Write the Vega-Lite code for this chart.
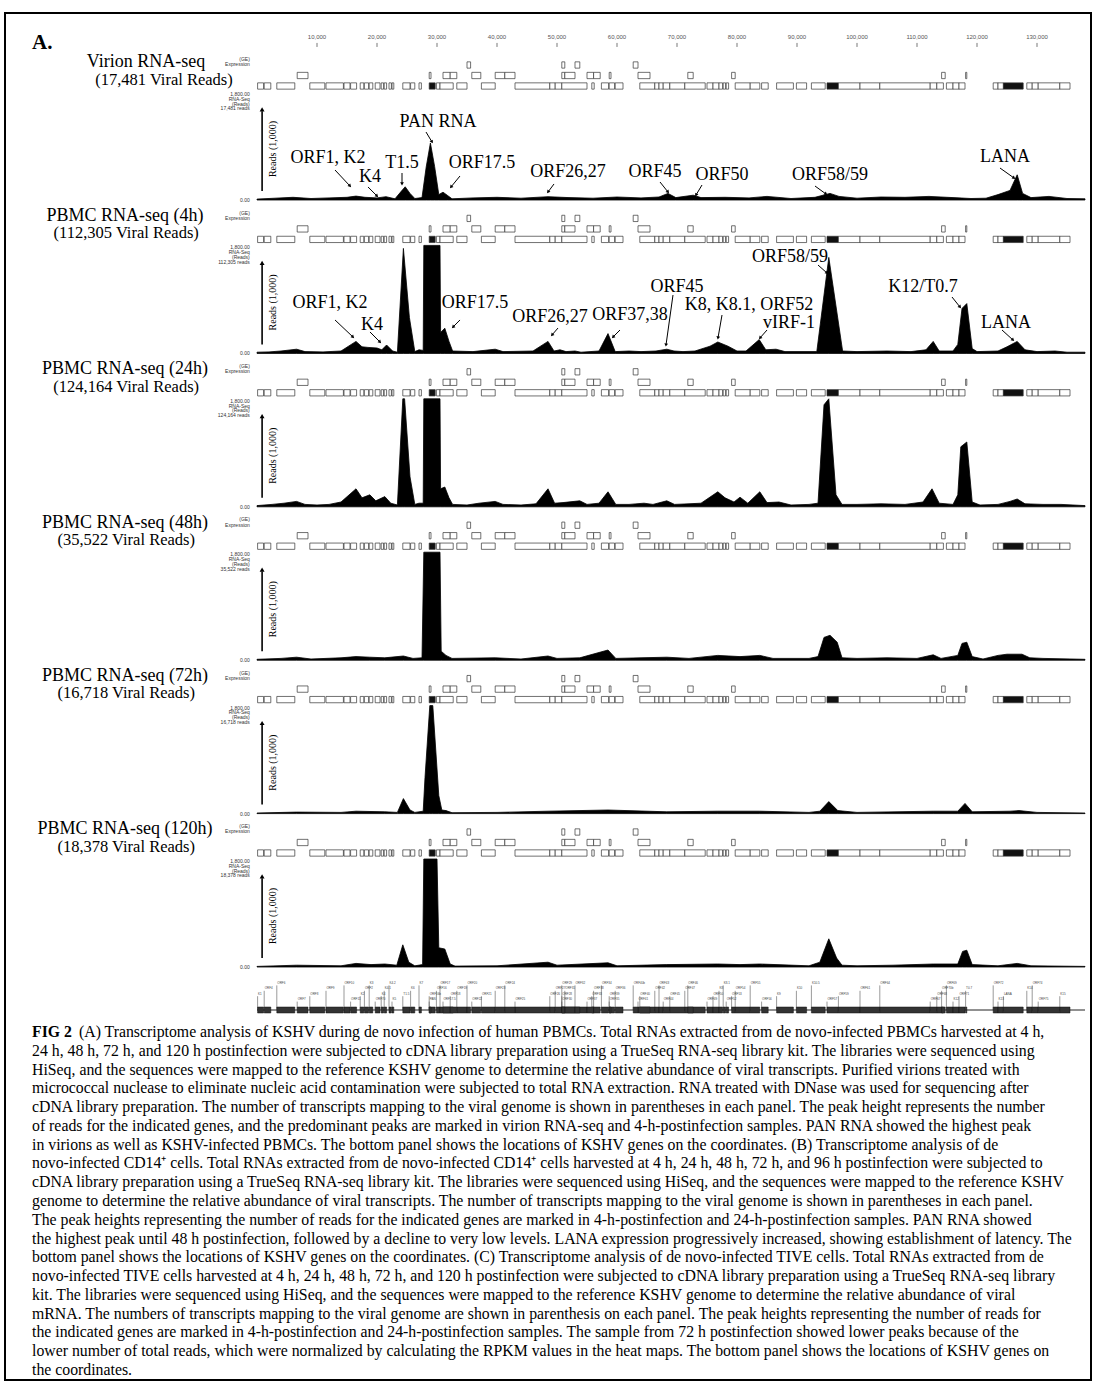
{
"$schema": "https://vega.github.io/schema/vega-lite/v6.json",
"width": 1086, "height": 1367,
"autosize": {"type": "none"},
"padding": {"left": 5, "top": 13, "right": 8, "bottom": 4},
"background": "white",
"config": {"view": {"stroke": "black", "strokeWidth": 2, "fill": "white"}},
"datasets": {
"p1": [{"pos":0,"reads":15},{"pos":3000,"reads":30},{"pos":6000,"reads":45},{"pos":9000,"reads":25},{"pos":12000,"reads":35},{"pos":15000,"reads":45},{"pos":16500,"reads":65},{"pos":18000,"reads":45},{"pos":20000,"reads":35},{"pos":21500,"reads":55},{"pos":23000,"reads":20},{"pos":24000,"reads":140},{"pos":24700,"reads":220},{"pos":25500,"reads":110},{"pos":26300,"reads":25},{"pos":27500,"reads":40},{"pos":28200,"reads":550},{"pos":28900,"reads":950},{"pos":29600,"reads":560},{"pos":30300,"reads":90},{"pos":31000,"reads":130},{"pos":31700,"reads":80},{"pos":32500,"reads":20},{"pos":36000,"reads":35},{"pos":40000,"reads":45},{"pos":44000,"reads":30},{"pos":48500,"reads":55},{"pos":52000,"reads":40},{"pos":56000,"reads":30},{"pos":60000,"reads":50},{"pos":64000,"reads":35},{"pos":67000,"reads":50},{"pos":68500,"reads":110},{"pos":69800,"reads":40},{"pos":72700,"reads":80},{"pos":74000,"reads":40},{"pos":78000,"reads":45},{"pos":82000,"reads":35},{"pos":85000,"reads":60},{"pos":89000,"reads":25},{"pos":93000,"reads":45},{"pos":95500,"reads":110},{"pos":97000,"reads":60},{"pos":100000,"reads":30},{"pos":104000,"reads":50},{"pos":108000,"reads":45},{"pos":112000,"reads":60},{"pos":116000,"reads":40},{"pos":119000,"reads":25},{"pos":121500,"reads":30},{"pos":123500,"reads":90},{"pos":125500,"reads":160},{"pos":126700,"reads":420},{"pos":127600,"reads":110},{"pos":129000,"reads":40},{"pos":132000,"reads":60},{"pos":135000,"reads":25},{"pos":138000,"reads":20}],
"p2": [{"pos":0,"reads":20},{"pos":2000,"reads":25},{"pos":4000,"reads":40},{"pos":6600,"reads":70},{"pos":8000,"reads":30},{"pos":11000,"reads":25},{"pos":14000,"reads":40},{"pos":16500,"reads":200},{"pos":17500,"reads":110},{"pos":18500,"reads":100},{"pos":20000,"reads":90},{"pos":20800,"reads":60},{"pos":21600,"reads":140},{"pos":22600,"reads":40},{"pos":23400,"reads":20},{"pos":24400,"reads":1750},{"pos":25400,"reads":600},{"pos":26300,"reads":30},{"pos":27000,"reads":60},{"pos":27700,"reads":50},{"pos":27800,"reads":1800},{"pos":30500,"reads":1800},{"pos":30600,"reads":350},{"pos":31300,"reads":420},{"pos":32000,"reads":200},{"pos":32600,"reads":40},{"pos":36000,"reads":30},{"pos":39700,"reads":70},{"pos":41000,"reads":30},{"pos":46000,"reads":40},{"pos":48500,"reads":200},{"pos":49500,"reads":40},{"pos":50500,"reads":60},{"pos":51500,"reads":30},{"pos":53000,"reads":40},{"pos":54000,"reads":20},{"pos":57000,"reads":40},{"pos":58500,"reads":330},{"pos":59700,"reads":30},{"pos":62000,"reads":40},{"pos":64000,"reads":30},{"pos":66500,"reads":40},{"pos":68300,"reads":70},{"pos":69500,"reads":40},{"pos":71000,"reads":30},{"pos":73000,"reads":40},{"pos":75500,"reads":120},{"pos":76800,"reads":190},{"pos":78500,"reads":120},{"pos":80000,"reads":40},{"pos":81500,"reads":40},{"pos":83700,"reads":230},{"pos":84800,"reads":60},{"pos":86500,"reads":70},{"pos":88000,"reads":30},{"pos":91000,"reads":30},{"pos":93300,"reads":30},{"pos":95300,"reads":1600},{"pos":97600,"reads":40},{"pos":100000,"reads":30},{"pos":105000,"reads":40},{"pos":109000,"reads":30},{"pos":111500,"reads":60},{"pos":112700,"reads":200},{"pos":113700,"reads":40},{"pos":116000,"reads":40},{"pos":116800,"reads":150},{"pos":117500,"reads":750},{"pos":118300,"reads":830},{"pos":119200,"reads":80},{"pos":120000,"reads":30},{"pos":123500,"reads":40},{"pos":125000,"reads":110},{"pos":126700,"reads":200},{"pos":128000,"reads":60},{"pos":130000,"reads":30},{"pos":133000,"reads":40},{"pos":135000,"reads":20},{"pos":138000,"reads":20}],
"p3": [{"pos":0,"reads":20},{"pos":2500,"reads":40},{"pos":4500,"reads":60},{"pos":6600,"reads":90},{"pos":8000,"reads":40},{"pos":10000,"reads":30},{"pos":12000,"reads":40},{"pos":14000,"reads":80},{"pos":16500,"reads":300},{"pos":17500,"reads":150},{"pos":18800,"reads":200},{"pos":19800,"reads":100},{"pos":21300,"reads":170},{"pos":22300,"reads":60},{"pos":23400,"reads":30},{"pos":24300,"reads":1800},{"pos":24600,"reads":1800},{"pos":25500,"reads":500},{"pos":26300,"reads":40},{"pos":27000,"reads":60},{"pos":27700,"reads":60},{"pos":27800,"reads":1800},{"pos":30500,"reads":1800},{"pos":30600,"reads":300},{"pos":31300,"reads":330},{"pos":32000,"reads":150},{"pos":32600,"reads":40},{"pos":35000,"reads":30},{"pos":37000,"reads":60},{"pos":39700,"reads":90},{"pos":41000,"reads":40},{"pos":44000,"reads":30},{"pos":46500,"reads":50},{"pos":48500,"reads":300},{"pos":49600,"reads":60},{"pos":51000,"reads":70},{"pos":53800,"reads":100},{"pos":55000,"reads":40},{"pos":57000,"reads":60},{"pos":58500,"reads":250},{"pos":59800,"reads":40},{"pos":62000,"reads":40},{"pos":64500,"reads":60},{"pos":66000,"reads":40},{"pos":68300,"reads":100},{"pos":69600,"reads":40},{"pos":72000,"reads":50},{"pos":74000,"reads":60},{"pos":76800,"reads":250},{"pos":78000,"reads":150},{"pos":79500,"reads":80},{"pos":80500,"reads":160},{"pos":81800,"reads":60},{"pos":83800,"reads":250},{"pos":85000,"reads":70},{"pos":87000,"reads":80},{"pos":89000,"reads":30},{"pos":92000,"reads":40},{"pos":93500,"reads":60},{"pos":94500,"reads":1700},{"pos":95300,"reads":1800},{"pos":96500,"reads":200},{"pos":97500,"reads":40},{"pos":100000,"reads":40},{"pos":104000,"reads":50},{"pos":108000,"reads":40},{"pos":111000,"reads":80},{"pos":112500,"reads":300},{"pos":113700,"reads":60},{"pos":116000,"reads":40},{"pos":116800,"reads":200},{"pos":117300,"reads":1000},{"pos":118300,"reads":1080},{"pos":119200,"reads":80},{"pos":120500,"reads":30},{"pos":123500,"reads":40},{"pos":125500,"reads":90},{"pos":126700,"reads":130},{"pos":128000,"reads":50},{"pos":131000,"reads":40},{"pos":134000,"reads":40},{"pos":138000,"reads":20}],
"p4": [{"pos":0,"reads":15},{"pos":4000,"reads":30},{"pos":6600,"reads":50},{"pos":9000,"reads":20},{"pos":14000,"reads":40},{"pos":16500,"reads":60},{"pos":18800,"reads":50},{"pos":21300,"reads":40},{"pos":24400,"reads":70},{"pos":26000,"reads":30},{"pos":27500,"reads":40},{"pos":27800,"reads":1800},{"pos":30500,"reads":1800},{"pos":30700,"reads":150},{"pos":31500,"reads":80},{"pos":32500,"reads":30},{"pos":39700,"reads":40},{"pos":44000,"reads":20},{"pos":48500,"reads":70},{"pos":50000,"reads":30},{"pos":53800,"reads":40},{"pos":58500,"reads":170},{"pos":59800,"reads":30},{"pos":64000,"reads":40},{"pos":68300,"reads":50},{"pos":72000,"reads":30},{"pos":76800,"reads":80},{"pos":80500,"reads":60},{"pos":83800,"reads":80},{"pos":86000,"reads":30},{"pos":92000,"reads":30},{"pos":93500,"reads":60},{"pos":94500,"reads":380},{"pos":95500,"reads":415},{"pos":96700,"reads":300},{"pos":97500,"reads":40},{"pos":100000,"reads":30},{"pos":105000,"reads":40},{"pos":110000,"reads":30},{"pos":112700,"reads":90},{"pos":114000,"reads":30},{"pos":116800,"reads":80},{"pos":117500,"reads":280},{"pos":118300,"reads":300},{"pos":119200,"reads":60},{"pos":121000,"reads":20},{"pos":123500,"reads":80},{"pos":125000,"reads":100},{"pos":127500,"reads":100},{"pos":128800,"reads":40},{"pos":131000,"reads":30},{"pos":138000,"reads":15}],
"p5": [{"pos":0,"reads":10},{"pos":6600,"reads":25},{"pos":14000,"reads":20},{"pos":16500,"reads":40},{"pos":21300,"reads":30},{"pos":23400,"reads":20},{"pos":24400,"reads":250},{"pos":25500,"reads":60},{"pos":26300,"reads":20},{"pos":27700,"reads":40},{"pos":28000,"reads":600},{"pos":28800,"reads":1800},{"pos":29300,"reads":1800},{"pos":30300,"reads":300},{"pos":30800,"reads":60},{"pos":31500,"reads":50},{"pos":32500,"reads":15},{"pos":40000,"reads":20},{"pos":48500,"reads":40},{"pos":58500,"reads":60},{"pos":68300,"reads":30},{"pos":76800,"reads":40},{"pos":83800,"reads":40},{"pos":92000,"reads":20},{"pos":93800,"reads":40},{"pos":95300,"reads":200},{"pos":96800,"reads":50},{"pos":100000,"reads":20},{"pos":112700,"reads":40},{"pos":116800,"reads":40},{"pos":118000,"reads":170},{"pos":119200,"reads":30},{"pos":125500,"reads":40},{"pos":127000,"reads":50},{"pos":130000,"reads":20},{"pos":138000,"reads":10}],
"p6": [{"pos":0,"reads":10},{"pos":6600,"reads":30},{"pos":14000,"reads":20},{"pos":16500,"reads":60},{"pos":19000,"reads":40},{"pos":21300,"reads":50},{"pos":23300,"reads":30},{"pos":24300,"reads":370},{"pos":25300,"reads":80},{"pos":26300,"reads":20},{"pos":27600,"reads":40},{"pos":27800,"reads":1800},{"pos":30000,"reads":1800},{"pos":30300,"reads":320},{"pos":31300,"reads":300},{"pos":32200,"reads":50},{"pos":33000,"reads":15},{"pos":40000,"reads":20},{"pos":48500,"reads":80},{"pos":50000,"reads":30},{"pos":58500,"reads":70},{"pos":60000,"reads":20},{"pos":68300,"reads":40},{"pos":76800,"reads":50},{"pos":80500,"reads":40},{"pos":83800,"reads":50},{"pos":92000,"reads":20},{"pos":93800,"reads":80},{"pos":95300,"reads":470},{"pos":96600,"reads":150},{"pos":97500,"reads":30},{"pos":100000,"reads":20},{"pos":106000,"reads":30},{"pos":112700,"reads":50},{"pos":116800,"reads":50},{"pos":117600,"reads":260},{"pos":118300,"reads":280},{"pos":119200,"reads":40},{"pos":123500,"reads":20},{"pos":126700,"reads":60},{"pos":129000,"reads":20},{"pos":138000,"reads":10}],
"ann": [
{"panel":1,"label":"PAN RNA","pos":30167,"reads":1300},{"panel":1,"label":"ORF1, K2","pos":11833,"reads":700},{"panel":1,"label":"K4","pos":18833,"reads":383},{"panel":1,"label":"T1.5","pos":24167,"reads":617},{"panel":1,"label":"ORF17.5","pos":37500,"reads":617},{"panel":1,"label":"ORF26,27","pos":51833,"reads":467},{"panel":1,"label":"ORF45","pos":66333,"reads":467},{"panel":1,"label":"ORF50","pos":77500,"reads":417},{"panel":1,"label":"ORF58/59","pos":95500,"reads":417},{"panel":1,"label":"LANA","pos":124667,"reads":717},
{"panel":2,"label":"ORF1, K2","pos":12167,"reads":840},{"panel":2,"label":"K4","pos":19167,"reads":473},{"panel":2,"label":"ORF17.5","pos":36333,"reads":840},{"panel":2,"label":"ORF26,27","pos":48833,"reads":607},{"panel":2,"label":"ORF37,38","pos":62167,"reads":640},{"panel":2,"label":"ORF45","pos":70000,"reads":1107},{"panel":2,"label":"K8, K8.1, ORF52","pos":82000,"reads":807},{"panel":2,"label":"vIRF-1","pos":88667,"reads":507},{"panel":2,"label":"ORF58/59","pos":88833,"reads":1607},{"panel":2,"label":"K12/T0.7","pos":111000,"reads":1107},{"panel":2,"label":"LANA","pos":124833,"reads":507}],
"arrows": [
{"panel":1,"pos":28167,"reads":1133,"pos2":29167,"reads2":967},{"panel":1,"pos":13000,"reads":500,"pos2":15500,"reads2":233},{"panel":1,"pos":18500,"reads":217,"pos2":20000,"reads2":67},{"panel":1,"pos":24167,"reads":450,"pos2":24167,"reads2":267},{"panel":1,"pos":33833,"reads":400,"pos2":32333,"reads2":217},{"panel":1,"pos":49500,"reads":267,"pos2":48500,"reads2":133},{"panel":1,"pos":67167,"reads":300,"pos2":68500,"reads2":133},{"panel":1,"pos":74167,"reads":250,"pos2":73167,"reads2":83},{"panel":1,"pos":93000,"reads":233,"pos2":94833,"reads2":100},{"panel":1,"pos":123833,"reads":533,"pos2":126167,"reads2":367},
{"panel":2,"pos":13000,"reads":557,"pos2":16000,"reads2":273},{"panel":2,"pos":18833,"reads":357,"pos2":20500,"reads2":190},{"panel":2,"pos":33833,"reads":557,"pos2":32667,"reads2":440},{"panel":2,"pos":50167,"reads":423,"pos2":49167,"reads2":307},{"panel":2,"pos":60500,"reads":390,"pos2":59333,"reads2":273},{"panel":2,"pos":69333,"reads":973,"pos2":68167,"reads2":140},{"panel":2,"pos":77500,"reads":640,"pos2":76833,"reads2":257},{"panel":2,"pos":85000,"reads":390,"pos2":83833,"reads2":257},{"panel":2,"pos":93500,"reads":1473,"pos2":95000,"reads2":1340},{"panel":2,"pos":115833,"reads":940,"pos2":117167,"reads2":773},{"panel":2,"pos":124167,"reads":390,"pos2":126000,"reads2":223}],
"titles": [
{"panel":1,"t1":"Virion RNA-seq","t2":"(17,481 Viral Reads)","pos1":-18500,"pos2":-15500},
{"panel":2,"t1":"PBMC RNA-seq (4h)","t2":"(112,305 Viral Reads)","pos1":-22000,"pos2":-21800},
{"panel":3,"t1":"PBMC RNA-seq (24h)","t2":"(124,164 Viral Reads)","pos1":-22000,"pos2":-21800},
{"panel":4,"t1":"PBMC RNA-seq (48h)","t2":"(35,522 Viral Reads)","pos1":-22000,"pos2":-21800},
{"panel":5,"t1":"PBMC RNA-seq (72h)","t2":"(16,718 Viral Reads)","pos1":-22000,"pos2":-21800},
{"panel":6,"t1":"PBMC RNA-seq (120h)","t2":"(18,378 Viral Reads)","pos1":-22000,"pos2":-21800}],
"ylab": [
{"panel":1,"text":"1,800.00\nRNA-Seq\n(Reads)\n17,481 reads"},
{"panel":2,"text":"1,800.00\nRNA-Seq\n(Reads)\n112,305 reads"},
{"panel":3,"text":"1,800.00\nRNA-Seq\n(Reads)\n124,164 reads"},
{"panel":4,"text":"1,800.00\nRNA-Seq\n(Reads)\n35,522 reads"},
{"panel":5,"text":"1,800.00\nRNA-Seq\n(Reads)\n16,718 reads"},
{"panel":6,"text":"1,800.00\nRNA-Seq\n(Reads)\n18,378 reads"}],
"ticks": [{"pos":10000},{"pos":20000},{"pos":30000},{"pos":40000},{"pos":50000},{"pos":60000},{"pos":70000},{"pos":80000},{"pos":90000},{"pos":100000},{"pos":110000},{"pos":120000},{"pos":130000}],
"genes": [
{"name":"K1","start":100,"end":1100,"lane":1,"kind":"open"},{"name":"ORF4","start":1200,"end":2300,"lane":1,"kind":"open"},{"name":"ORF6","start":3300,"end":6300,"lane":1,"kind":"open"},{"name":"ORF8","start":8800,"end":11300,"lane":1,"kind":"open"},{"name":"ORF9","start":11500,"end":14400,"lane":1,"kind":"open"},{"name":"ORF10","start":14500,"end":15500,"lane":1,"kind":"open"},{"name":"ORF11","start":15600,"end":16600,"lane":1,"kind":"open"},{"name":"K2","start":17200,"end":17800,"lane":1,"kind":"open"},{"name":"ORF2","start":17900,"end":18600,"lane":1,"kind":"open"},{"name":"K3","start":18700,"end":19300,"lane":1,"kind":"open"},{"name":"ORF70","start":19700,"end":20500,"lane":1,"kind":"open"},{"name":"K4","start":20700,"end":21100,"lane":1,"kind":"open"},{"name":"K4.1","start":21200,"end":21600,"lane":1,"kind":"open"},{"name":"K4.2","start":22000,"end":22400,"lane":1,"kind":"open"},{"name":"K5","start":22500,"end":22800,"lane":1,"kind":"open"},{"name":"T1.5","start":24300,"end":25500,"lane":1,"kind":"open"},{"name":"K6","start":25600,"end":26300,"lane":1,"kind":"open"},{"name":"K7","start":27000,"end":27400,"lane":1,"kind":"open"},{"name":"PAN","start":28700,"end":29700,"lane":1,"kind":"filled"},{"name":"ORF16","start":29900,"end":30500,"lane":1,"kind":"open"},{"name":"ORF17","start":30500,"end":32700,"lane":1,"kind":"open"},{"name":"ORF19","start":33300,"end":35000,"lane":1,"kind":"open"},{"name":"ORF21","start":37400,"end":39700,"lane":1,"kind":"open"},{"name":"ORF25","start":43000,"end":48800,"lane":1,"kind":"open"},{"name":"ORF26","start":48800,"end":49700,"lane":1,"kind":"open"},{"name":"ORF27","start":49700,"end":50800,"lane":1,"kind":"open"},{"name":"ORF29","start":50800,"end":55000,"lane":1,"kind":"open"},{"name":"ORF33","start":55800,"end":56200,"lane":1,"kind":"open"},{"name":"ORF34","start":57400,"end":58600,"lane":1,"kind":"open"},{"name":"ORF35","start":58700,"end":59600,"lane":1,"kind":"open"},{"name":"ORF36","start":59700,"end":61000,"lane":1,"kind":"open"},{"name":"ORF40","start":63800,"end":66300,"lane":1,"kind":"open"},{"name":"ORF42","start":66300,"end":67000,"lane":1,"kind":"open"},{"name":"ORF43","start":67000,"end":67700,"lane":1,"kind":"open"},{"name":"ORF44","start":67700,"end":68800,"lane":1,"kind":"open"},{"name":"ORF45","start":68800,"end":71300,"lane":1,"kind":"open"},{"name":"ORF47","start":71300,"end":74700,"lane":1,"kind":"open"},{"name":"ORF49","start":75000,"end":76000,"lane":1,"kind":"open"},{"name":"ORF50","start":76000,"end":77000,"lane":1,"kind":"open"},{"name":"K8","start":77000,"end":77600,"lane":1,"kind":"open"},{"name":"K8.1","start":77700,"end":78100,"lane":1,"kind":"open"},{"name":"ORF52","start":78200,"end":78600,"lane":1,"kind":"open"},{"name":"ORF54","start":79700,"end":82200,"lane":1,"kind":"open"},{"name":"ORF55","start":82200,"end":83800,"lane":1,"kind":"open"},{"name":"ORF56","start":84100,"end":85200,"lane":1,"kind":"open"},{"name":"K9","start":86600,"end":89400,"lane":1,"kind":"open"},{"name":"K10","start":89900,"end":91600,"lane":1,"kind":"open"},{"name":"K10.5","start":92400,"end":94700,"lane":1,"kind":"open"},{"name":"ORF57","start":95000,"end":96900,"lane":1,"kind":"filled"},{"name":"ORF59","start":96900,"end":100500,"lane":1,"kind":"open"},{"name":"ORF61","start":100500,"end":103800,"lane":1,"kind":"open"},{"name":"ORF64","start":103800,"end":112200,"lane":1,"kind":"open"},{"name":"ORF67","start":112200,"end":113300,"lane":1,"kind":"open"},{"name":"ORF68","start":113300,"end":114400,"lane":1,"kind":"open"},{"name":"ORF69","start":114900,"end":116000,"lane":1,"kind":"open"},{"name":"K12","start":116000,"end":117000,"lane":1,"kind":"open"},{"name":"ORF71","start":117000,"end":118000,"lane":1,"kind":"open"},{"name":"ORF72","start":122700,"end":123500,"lane":1,"kind":"open"},{"name":"K13","start":123500,"end":124400,"lane":1,"kind":"open"},{"name":"LANA","start":124400,"end":127700,"lane":1,"kind":"filled"},{"name":"K14","start":128300,"end":129200,"lane":1,"kind":"open"},{"name":"ORF74","start":129200,"end":130200,"lane":1,"kind":"open"},{"name":"ORF75","start":130200,"end":133800,"lane":1,"kind":"open"},{"name":"K15","start":133800,"end":135500,"lane":1,"kind":"open"},
{"name":"ORF7","start":6700,"end":8500,"lane":2,"kind":"open"},{"name":"ORF16b","start":28700,"end":29000,"lane":2,"kind":"open"},{"name":"ORF17.5","start":31000,"end":32200,"lane":2,"kind":"open"},{"name":"ORF18","start":32200,"end":33300,"lane":2,"kind":"open"},{"name":"ORF22","start":35800,"end":37300,"lane":2,"kind":"open"},{"name":"ORF23","start":39700,"end":41300,"lane":2,"kind":"open"},{"name":"ORF24","start":41300,"end":43000,"lane":2,"kind":"open"},{"name":"ORF30","start":50800,"end":51300,"lane":2,"kind":"open"},{"name":"ORF31","start":51300,"end":53000,"lane":2,"kind":"open"},{"name":"ORF37","start":55000,"end":56100,"lane":2,"kind":"open"},{"name":"ORF38","start":56100,"end":57200,"lane":2,"kind":"open"},{"name":"ORF39","start":58700,"end":59000,"lane":2,"kind":"open"},{"name":"ORF41","start":63500,"end":65500,"lane":2,"kind":"open"},{"name":"ORF46","start":71800,"end":72700,"lane":2,"kind":"open"},{"name":"ORF53","start":79100,"end":79700,"lane":2,"kind":"open"},{"name":"ORF70b","start":114100,"end":114700,"lane":2,"kind":"open"},{"name":"T0.7","start":118100,"end":118300,"lane":2,"kind":"open"},
{"name":"ORF20","start":35000,"end":35600,"lane":3,"kind":"open"},{"name":"ORF28","start":50800,"end":51300,"lane":3,"kind":"open"},{"name":"ORF32","start":53000,"end":53800,"lane":3,"kind":"open"},{"name":"ORF40b","start":62700,"end":63500,"lane":3,"kind":"open"}],
"caption": [
{"line":1,"text":"(A) Transcriptome analysis of KSHV during de novo infection of human PBMCs. Total RNAs extracted from de novo-infected PBMCs harvested at 4 h,"},
{"line":2,"text":"24 h, 48 h, 72 h, and 120 h postinfection were subjected to cDNA library preparation using a TrueSeq RNA-seq library kit. The libraries were sequenced using"},
{"line":3,"text":"HiSeq, and the sequences were mapped to the reference KSHV genome to determine the relative abundance of viral transcripts. Purified virions treated with"},
{"line":4,"text":"micrococcal nuclease to eliminate nucleic acid contamination were subjected to total RNA extraction. RNA treated with DNase was used for sequencing after"},
{"line":5,"text":"cDNA library preparation. The number of transcripts mapping to the viral genome is shown in parentheses in each panel. The peak height represents the number"},
{"line":6,"text":"of reads for the indicated genes, and the predominant peaks are marked in virion RNA-seq and 4-h-postinfection samples. PAN RNA showed the highest peak"},
{"line":7,"text":"in virions as well as KSHV-infected PBMCs. The bottom panel shows the locations of KSHV genes on the coordinates. (B) Transcriptome analysis of de"},
{"line":8,"text":"novo-infected CD14⁺ cells. Total RNAs extracted from de novo-infected CD14⁺ cells harvested at 4 h, 24 h, 48 h, 72 h, and 96 h postinfection were subjected to"},
{"line":9,"text":"cDNA library preparation using a TrueSeq RNA-seq library kit. The libraries were sequenced using HiSeq, and the sequences were mapped to the reference KSHV"},
{"line":10,"text":"genome to determine the relative abundance of viral transcripts. The number of transcripts mapping to the viral genome is shown in parentheses in each panel."},
{"line":11,"text":"The peak heights representing the number of reads for the indicated genes are marked in 4-h-postinfection and 24-h-postinfection samples. PAN RNA showed"},
{"line":12,"text":"the highest peak until 48 h postinfection, followed by a decline to very low levels. LANA expression progressively increased, showing establishment of latency. The"},
{"line":13,"text":"bottom panel shows the locations of KSHV genes on the coordinates. (C) Transcriptome analysis of de novo-infected TIVE cells. Total RNAs extracted from de"},
{"line":14,"text":"novo-infected TIVE cells harvested at 4 h, 24 h, 48 h, 72 h, and 120 h postinfection were subjected to cDNA library preparation using a TrueSeq RNA-seq library"},
{"line":15,"text":"kit. The libraries were sequenced using HiSeq, and the sequences were mapped to the reference KSHV genome to determine the relative abundance of viral"},
{"line":16,"text":"mRNA. The numbers of transcripts mapping to the viral genome are shown in parenthesis on each panel. The peak heights representing the number of reads for"},
{"line":17,"text":"the indicated genes are marked in 4-h-postinfection and 24-h-postinfection samples. The sample from 72 h postinfection showed lower peaks because of the"},
{"line":18,"text":"lower number of total reads, which were normalized by calculating the RPKM values in the heat maps. The bottom panel shows the locations of KSHV genes on"},
{"line":19,"text":"the coordinates."}]
},
"resolve": {"scale": {"x": "independent", "y": "independent"}},
"layer": [
{
"encoding": {"x": {"field": "pos", "type": "quantitative", "scale": {"domain": [0, 138000], "range": [252, 1080], "nice": false, "zero": false}, "axis": null}},
"resolve": {"scale": {"y": "independent"}},
"layer": [
{"resolve": {"scale": {"y": "independent"}}, "layer": [
 {"encoding": {"y": {"field": "reads", "type": "quantitative", "scale": {"domain": [0, 1800], "range": [187, 79], "nice": false, "zero": false}, "axis": null}},
  "layer": [
  {"data": {"name": "p1"}, "mark": {"type": "area", "color": "black", "stroke": "black", "strokeWidth": 0.8}},
  {"data": {"name": "ann"}, "transform": [{"filter": "datum.panel == 1"}], "mark": {"type": "text", "font": "Liberation Serif", "fontSize": 18, "color": "black"}, "encoding": {"text": {"field": "label"}}},
  {"data": {"name": "arrows"}, "transform": [{"filter": "datum.panel == 1"}], "mark": {"type": "rule", "color": "black", "strokeWidth": 1}, "encoding": {"x2": {"field": "pos2"}, "y2": {"field": "reads2"}}},
  {"data": {"name": "arrows"}, "transform": [{"filter": "datum.panel == 1"}, {"calculate": "atan2((datum.pos2-datum.pos)*0.006,(datum.reads2-datum.reads)*0.06)*180/PI", "as": "ang"}], "mark": {"type": "point", "shape": "triangle-up", "filled": true, "color": "black", "size": 14, "opacity": 1}, "encoding": {"x": {"field": "pos2", "type": "quantitative", "axis": null}, "y": {"field": "reads2", "type": "quantitative", "axis": null}, "angle": {"field": "ang", "type": "quantitative", "scale": null}}},
  {"data": {"name": "ylab"}, "transform": [{"filter": "datum.panel == 1"}, {"calculate": "-1200", "as": "pos"}, {"calculate": "1800", "as": "reads"}], "mark": {"type": "text", "font": "Liberation Sans", "fontSize": 5, "lineHeight": 4.8, "lineBreak": "\n", "align": "right", "baseline": "top", "color": "#333"}, "encoding": {"text": {"field": "text"}}},
  {"data": {"name": "ylab"}, "transform": [{"filter": "datum.panel == 1"}, {"calculate": "-1200", "as": "pos"}, {"calculate": "0", "as": "reads"}], "mark": {"type": "text", "font": "Liberation Sans", "fontSize": 5, "align": "right", "baseline": "middle", "color": "#333"}, "encoding": {"text": {"value": "0.00"}}},
  {"data": {"name": "ylab"}, "transform": [{"filter": "datum.panel == 1"}, {"calculate": "850", "as": "pos"}, {"calculate": "150", "as": "reads"}, {"calculate": "1480", "as": "reads2"}], "mark": {"type": "rule", "color": "black", "strokeWidth": 1.6}, "encoding": {"y2": {"field": "reads2"}}},
  {"data": {"name": "ylab"}, "transform": [{"filter": "datum.panel == 1"}, {"calculate": "850", "as": "pos"}, {"calculate": "1510", "as": "reads"}], "mark": {"type": "point", "shape": "triangle-up", "filled": true, "color": "black", "size": 24, "opacity": 1}},
  {"data": {"name": "ylab"}, "transform": [{"filter": "datum.panel == 1"}, {"calculate": "2600", "as": "pos"}, {"calculate": "850", "as": "reads"}], "mark": {"type": "text", "font": "Liberation Serif", "fontSize": 10, "angle": 270, "color": "black"}, "encoding": {"text": {"value": "Reads (1,000)"}}}
 ]},
 {"encoding": {"y": {"field": "lane", "type": "quantitative", "scale": {"domain": [1, 3], "range": [73, 52], "nice": false, "zero": false}, "axis": null}},
  "layer": [
  {"data": {"name": "genes"}, "transform": [{"calculate": "datum.lane-0.3", "as": "lo"}, {"calculate": "datum.lane+0.3", "as": "hi"}], "mark": {"type": "rect", "stroke": "#333", "strokeWidth": 0.7}, "encoding": {"x": {"field": "start", "type": "quantitative", "axis": null}, "x2": {"field": "end"}, "y": {"field": "lo"}, "y2": {"field": "hi"}, "fill": {"field": "kind", "type": "nominal", "scale": {"domain": ["open", "filled"], "range": ["white", "#111"]}, "legend": null}}},
  {"data": {"name": "titles"}, "transform": [{"filter": "datum.panel == 1"}, {"calculate": "3.25", "as": "lane"}], "mark": {"type": "text", "font": "Liberation Serif", "fontSize": 18, "color": "black"}, "encoding": {"x": {"field": "pos1", "type": "quantitative", "axis": null}, "text": {"field": "t1"}}},
  {"data": {"name": "titles"}, "transform": [{"filter": "datum.panel == 1"}, {"calculate": "1.6", "as": "lane"}], "mark": {"type": "text", "font": "Liberation Serif", "fontSize": 16.5, "color": "black"}, "encoding": {"x": {"field": "pos2", "type": "quantitative", "axis": null}, "text": {"field": "t2"}}},
  {"data": {"name": "ylab"}, "transform": [{"filter": "datum.panel == 1"}, {"calculate": "-1200", "as": "pos"}, {"calculate": "3.55", "as": "lane"}], "mark": {"type": "text", "font": "Liberation Sans", "fontSize": 5, "align": "right", "color": "#333"}, "encoding": {"text": {"value": "(GE)"}}},
  {"data": {"name": "ylab"}, "transform": [{"filter": "datum.panel == 1"}, {"calculate": "-1200", "as": "pos"}, {"calculate": "3.05", "as": "lane"}], "mark": {"type": "text", "font": "Liberation Sans", "fontSize": 5, "align": "right", "color": "#333"}, "encoding": {"text": {"value": "Expression"}}},
  {"data": {"values": [{"label": "A."}]}, "transform": [{"calculate": "-35800", "as": "pos"}, {"calculate": "5.1", "as": "lane"}], "mark": {"type": "text", "font": "Liberation Serif", "fontSize": 21, "fontWeight": "bold", "color": "black"}, "encoding": {"text": {"field": "label"}}},
  {"data": {"name": "ticks"}, "transform": [{"calculate": "5.67", "as": "lane"}], "mark": {"type": "text", "font": "Liberation Sans", "fontSize": 6, "color": "#555"}, "encoding": {"text": {"field": "pos", "type": "quantitative", "format": ",d"}}},
  {"data": {"name": "ticks"}, "transform": [{"calculate": "4.72", "as": "lane"}, {"calculate": "5.1", "as": "lane2"}], "mark": {"type": "rule", "color": "#555", "strokeWidth": 0.8}, "encoding": {"y2": {"field": "lane2"}}}
 ]}
]},
{"resolve": {"scale": {"y": "independent"}}, "layer": [
 {"encoding": {"y": {"field": "reads", "type": "quantitative", "scale": {"domain": [0, 1800], "range": [340.4, 232.4], "nice": false, "zero": false}, "axis": null}},
  "layer": [
  {"data": {"name": "p2"}, "mark": {"type": "area", "color": "black", "stroke": "black", "strokeWidth": 0.8}},
  {"data": {"name": "ann"}, "transform": [{"filter": "datum.panel == 2"}], "mark": {"type": "text", "font": "Liberation Serif", "fontSize": 18, "color": "black"}, "encoding": {"text": {"field": "label"}}},
  {"data": {"name": "arrows"}, "transform": [{"filter": "datum.panel == 2"}], "mark": {"type": "rule", "color": "black", "strokeWidth": 1}, "encoding": {"x2": {"field": "pos2"}, "y2": {"field": "reads2"}}},
  {"data": {"name": "arrows"}, "transform": [{"filter": "datum.panel == 2"}, {"calculate": "atan2((datum.pos2-datum.pos)*0.006,(datum.reads2-datum.reads)*0.06)*180/PI", "as": "ang"}], "mark": {"type": "point", "shape": "triangle-up", "filled": true, "color": "black", "size": 14, "opacity": 1}, "encoding": {"x": {"field": "pos2", "type": "quantitative", "axis": null}, "y": {"field": "reads2", "type": "quantitative", "axis": null}, "angle": {"field": "ang", "type": "quantitative", "scale": null}}},
  {"data": {"name": "ylab"}, "transform": [{"filter": "datum.panel == 2"}, {"calculate": "-1200", "as": "pos"}, {"calculate": "1800", "as": "reads"}], "mark": {"type": "text", "font": "Liberation Sans", "fontSize": 5, "lineHeight": 4.8, "lineBreak": "\n", "align": "right", "baseline": "top", "color": "#333"}, "encoding": {"text": {"field": "text"}}},
  {"data": {"name": "ylab"}, "transform": [{"filter": "datum.panel == 2"}, {"calculate": "-1200", "as": "pos"}, {"calculate": "0", "as": "reads"}], "mark": {"type": "text", "font": "Liberation Sans", "fontSize": 5, "align": "right", "baseline": "middle", "color": "#333"}, "encoding": {"text": {"value": "0.00"}}},
  {"data": {"name": "ylab"}, "transform": [{"filter": "datum.panel == 2"}, {"calculate": "850", "as": "pos"}, {"calculate": "150", "as": "reads"}, {"calculate": "1480", "as": "reads2"}], "mark": {"type": "rule", "color": "black", "strokeWidth": 1.6}, "encoding": {"y2": {"field": "reads2"}}},
  {"data": {"name": "ylab"}, "transform": [{"filter": "datum.panel == 2"}, {"calculate": "850", "as": "pos"}, {"calculate": "1510", "as": "reads"}], "mark": {"type": "point", "shape": "triangle-up", "filled": true, "color": "black", "size": 24, "opacity": 1}},
  {"data": {"name": "ylab"}, "transform": [{"filter": "datum.panel == 2"}, {"calculate": "2600", "as": "pos"}, {"calculate": "850", "as": "reads"}], "mark": {"type": "text", "font": "Liberation Serif", "fontSize": 10, "angle": 270, "color": "black"}, "encoding": {"text": {"value": "Reads (1,000)"}}}
 ]},
 {"encoding": {"y": {"field": "lane", "type": "quantitative", "scale": {"domain": [1, 3], "range": [226.4, 205.4], "nice": false, "zero": false}, "axis": null}},
  "layer": [
  {"data": {"name": "genes"}, "transform": [{"calculate": "datum.lane-0.3", "as": "lo"}, {"calculate": "datum.lane+0.3", "as": "hi"}], "mark": {"type": "rect", "stroke": "#333", "strokeWidth": 0.7}, "encoding": {"x": {"field": "start", "type": "quantitative", "axis": null}, "x2": {"field": "end"}, "y": {"field": "lo"}, "y2": {"field": "hi"}, "fill": {"field": "kind", "type": "nominal", "scale": {"domain": ["open", "filled"], "range": ["white", "#111"]}, "legend": null}}},
  {"data": {"name": "titles"}, "transform": [{"filter": "datum.panel == 2"}, {"calculate": "3.25", "as": "lane"}], "mark": {"type": "text", "font": "Liberation Serif", "fontSize": 18, "color": "black"}, "encoding": {"x": {"field": "pos1", "type": "quantitative", "axis": null}, "text": {"field": "t1"}}},
  {"data": {"name": "titles"}, "transform": [{"filter": "datum.panel == 2"}, {"calculate": "1.6", "as": "lane"}], "mark": {"type": "text", "font": "Liberation Serif", "fontSize": 16.5, "color": "black"}, "encoding": {"x": {"field": "pos2", "type": "quantitative", "axis": null}, "text": {"field": "t2"}}},
  {"data": {"name": "ylab"}, "transform": [{"filter": "datum.panel == 2"}, {"calculate": "-1200", "as": "pos"}, {"calculate": "3.55", "as": "lane"}], "mark": {"type": "text", "font": "Liberation Sans", "fontSize": 5, "align": "right", "color": "#333"}, "encoding": {"text": {"value": "(GE)"}}},
  {"data": {"name": "ylab"}, "transform": [{"filter": "datum.panel == 2"}, {"calculate": "-1200", "as": "pos"}, {"calculate": "3.05", "as": "lane"}], "mark": {"type": "text", "font": "Liberation Sans", "fontSize": 5, "align": "right", "color": "#333"}, "encoding": {"text": {"value": "Expression"}}}
 ]}
]},
{"resolve": {"scale": {"y": "independent"}}, "layer": [
 {"encoding": {"y": {"field": "reads", "type": "quantitative", "scale": {"domain": [0, 1800], "range": [493.8, 385.8], "nice": false, "zero": false}, "axis": null}},
  "layer": [
  {"data": {"name": "p3"}, "mark": {"type": "area", "color": "black", "stroke": "black", "strokeWidth": 0.8}},
  {"data": {"name": "ylab"}, "transform": [{"filter": "datum.panel == 3"}, {"calculate": "-1200", "as": "pos"}, {"calculate": "1800", "as": "reads"}], "mark": {"type": "text", "font": "Liberation Sans", "fontSize": 5, "lineHeight": 4.8, "lineBreak": "\n", "align": "right", "baseline": "top", "color": "#333"}, "encoding": {"text": {"field": "text"}}},
  {"data": {"name": "ylab"}, "transform": [{"filter": "datum.panel == 3"}, {"calculate": "-1200", "as": "pos"}, {"calculate": "0", "as": "reads"}], "mark": {"type": "text", "font": "Liberation Sans", "fontSize": 5, "align": "right", "baseline": "middle", "color": "#333"}, "encoding": {"text": {"value": "0.00"}}},
  {"data": {"name": "ylab"}, "transform": [{"filter": "datum.panel == 3"}, {"calculate": "850", "as": "pos"}, {"calculate": "150", "as": "reads"}, {"calculate": "1480", "as": "reads2"}], "mark": {"type": "rule", "color": "black", "strokeWidth": 1.6}, "encoding": {"y2": {"field": "reads2"}}},
  {"data": {"name": "ylab"}, "transform": [{"filter": "datum.panel == 3"}, {"calculate": "850", "as": "pos"}, {"calculate": "1510", "as": "reads"}], "mark": {"type": "point", "shape": "triangle-up", "filled": true, "color": "black", "size": 24, "opacity": 1}},
  {"data": {"name": "ylab"}, "transform": [{"filter": "datum.panel == 3"}, {"calculate": "2600", "as": "pos"}, {"calculate": "850", "as": "reads"}], "mark": {"type": "text", "font": "Liberation Serif", "fontSize": 10, "angle": 270, "color": "black"}, "encoding": {"text": {"value": "Reads (1,000)"}}}
 ]},
 {"encoding": {"y": {"field": "lane", "type": "quantitative", "scale": {"domain": [1, 3], "range": [379.8, 358.8], "nice": false, "zero": false}, "axis": null}},
  "layer": [
  {"data": {"name": "genes"}, "transform": [{"calculate": "datum.lane-0.3", "as": "lo"}, {"calculate": "datum.lane+0.3", "as": "hi"}], "mark": {"type": "rect", "stroke": "#333", "strokeWidth": 0.7}, "encoding": {"x": {"field": "start", "type": "quantitative", "axis": null}, "x2": {"field": "end"}, "y": {"field": "lo"}, "y2": {"field": "hi"}, "fill": {"field": "kind", "type": "nominal", "scale": {"domain": ["open", "filled"], "range": ["white", "#111"]}, "legend": null}}},
  {"data": {"name": "titles"}, "transform": [{"filter": "datum.panel == 3"}, {"calculate": "3.25", "as": "lane"}], "mark": {"type": "text", "font": "Liberation Serif", "fontSize": 18, "color": "black"}, "encoding": {"x": {"field": "pos1", "type": "quantitative", "axis": null}, "text": {"field": "t1"}}},
  {"data": {"name": "titles"}, "transform": [{"filter": "datum.panel == 3"}, {"calculate": "1.6", "as": "lane"}], "mark": {"type": "text", "font": "Liberation Serif", "fontSize": 16.5, "color": "black"}, "encoding": {"x": {"field": "pos2", "type": "quantitative", "axis": null}, "text": {"field": "t2"}}},
  {"data": {"name": "ylab"}, "transform": [{"filter": "datum.panel == 3"}, {"calculate": "-1200", "as": "pos"}, {"calculate": "3.55", "as": "lane"}], "mark": {"type": "text", "font": "Liberation Sans", "fontSize": 5, "align": "right", "color": "#333"}, "encoding": {"text": {"value": "(GE)"}}},
  {"data": {"name": "ylab"}, "transform": [{"filter": "datum.panel == 3"}, {"calculate": "-1200", "as": "pos"}, {"calculate": "3.05", "as": "lane"}], "mark": {"type": "text", "font": "Liberation Sans", "fontSize": 5, "align": "right", "color": "#333"}, "encoding": {"text": {"value": "Expression"}}}
 ]}
]},
{"resolve": {"scale": {"y": "independent"}}, "layer": [
 {"encoding": {"y": {"field": "reads", "type": "quantitative", "scale": {"domain": [0, 1800], "range": [647.2, 539.2], "nice": false, "zero": false}, "axis": null}},
  "layer": [
  {"data": {"name": "p4"}, "mark": {"type": "area", "color": "black", "stroke": "black", "strokeWidth": 0.8}},
  {"data": {"name": "ylab"}, "transform": [{"filter": "datum.panel == 4"}, {"calculate": "-1200", "as": "pos"}, {"calculate": "1800", "as": "reads"}], "mark": {"type": "text", "font": "Liberation Sans", "fontSize": 5, "lineHeight": 4.8, "lineBreak": "\n", "align": "right", "baseline": "top", "color": "#333"}, "encoding": {"text": {"field": "text"}}},
  {"data": {"name": "ylab"}, "transform": [{"filter": "datum.panel == 4"}, {"calculate": "-1200", "as": "pos"}, {"calculate": "0", "as": "reads"}], "mark": {"type": "text", "font": "Liberation Sans", "fontSize": 5, "align": "right", "baseline": "middle", "color": "#333"}, "encoding": {"text": {"value": "0.00"}}},
  {"data": {"name": "ylab"}, "transform": [{"filter": "datum.panel == 4"}, {"calculate": "850", "as": "pos"}, {"calculate": "150", "as": "reads"}, {"calculate": "1480", "as": "reads2"}], "mark": {"type": "rule", "color": "black", "strokeWidth": 1.6}, "encoding": {"y2": {"field": "reads2"}}},
  {"data": {"name": "ylab"}, "transform": [{"filter": "datum.panel == 4"}, {"calculate": "850", "as": "pos"}, {"calculate": "1510", "as": "reads"}], "mark": {"type": "point", "shape": "triangle-up", "filled": true, "color": "black", "size": 24, "opacity": 1}},
  {"data": {"name": "ylab"}, "transform": [{"filter": "datum.panel == 4"}, {"calculate": "2600", "as": "pos"}, {"calculate": "850", "as": "reads"}], "mark": {"type": "text", "font": "Liberation Serif", "fontSize": 10, "angle": 270, "color": "black"}, "encoding": {"text": {"value": "Reads (1,000)"}}}
 ]},
 {"encoding": {"y": {"field": "lane", "type": "quantitative", "scale": {"domain": [1, 3], "range": [533.2, 512.2], "nice": false, "zero": false}, "axis": null}},
  "layer": [
  {"data": {"name": "genes"}, "transform": [{"calculate": "datum.lane-0.3", "as": "lo"}, {"calculate": "datum.lane+0.3", "as": "hi"}], "mark": {"type": "rect", "stroke": "#333", "strokeWidth": 0.7}, "encoding": {"x": {"field": "start", "type": "quantitative", "axis": null}, "x2": {"field": "end"}, "y": {"field": "lo"}, "y2": {"field": "hi"}, "fill": {"field": "kind", "type": "nominal", "scale": {"domain": ["open", "filled"], "range": ["white", "#111"]}, "legend": null}}},
  {"data": {"name": "titles"}, "transform": [{"filter": "datum.panel == 4"}, {"calculate": "3.25", "as": "lane"}], "mark": {"type": "text", "font": "Liberation Serif", "fontSize": 18, "color": "black"}, "encoding": {"x": {"field": "pos1", "type": "quantitative", "axis": null}, "text": {"field": "t1"}}},
  {"data": {"name": "titles"}, "transform": [{"filter": "datum.panel == 4"}, {"calculate": "1.6", "as": "lane"}], "mark": {"type": "text", "font": "Liberation Serif", "fontSize": 16.5, "color": "black"}, "encoding": {"x": {"field": "pos2", "type": "quantitative", "axis": null}, "text": {"field": "t2"}}},
  {"data": {"name": "ylab"}, "transform": [{"filter": "datum.panel == 4"}, {"calculate": "-1200", "as": "pos"}, {"calculate": "3.55", "as": "lane"}], "mark": {"type": "text", "font": "Liberation Sans", "fontSize": 5, "align": "right", "color": "#333"}, "encoding": {"text": {"value": "(GE)"}}},
  {"data": {"name": "ylab"}, "transform": [{"filter": "datum.panel == 4"}, {"calculate": "-1200", "as": "pos"}, {"calculate": "3.05", "as": "lane"}], "mark": {"type": "text", "font": "Liberation Sans", "fontSize": 5, "align": "right", "color": "#333"}, "encoding": {"text": {"value": "Expression"}}}
 ]}
]},
{"resolve": {"scale": {"y": "independent"}}, "layer": [
 {"encoding": {"y": {"field": "reads", "type": "quantitative", "scale": {"domain": [0, 1800], "range": [800.6, 692.6], "nice": false, "zero": false}, "axis": null}},
  "layer": [
  {"data": {"name": "p5"}, "mark": {"type": "area", "color": "black", "stroke": "black", "strokeWidth": 0.8}},
  {"data": {"name": "ylab"}, "transform": [{"filter": "datum.panel == 5"}, {"calculate": "-1200", "as": "pos"}, {"calculate": "1800", "as": "reads"}], "mark": {"type": "text", "font": "Liberation Sans", "fontSize": 5, "lineHeight": 4.8, "lineBreak": "\n", "align": "right", "baseline": "top", "color": "#333"}, "encoding": {"text": {"field": "text"}}},
  {"data": {"name": "ylab"}, "transform": [{"filter": "datum.panel == 5"}, {"calculate": "-1200", "as": "pos"}, {"calculate": "0", "as": "reads"}], "mark": {"type": "text", "font": "Liberation Sans", "fontSize": 5, "align": "right", "baseline": "middle", "color": "#333"}, "encoding": {"text": {"value": "0.00"}}},
  {"data": {"name": "ylab"}, "transform": [{"filter": "datum.panel == 5"}, {"calculate": "850", "as": "pos"}, {"calculate": "150", "as": "reads"}, {"calculate": "1480", "as": "reads2"}], "mark": {"type": "rule", "color": "black", "strokeWidth": 1.6}, "encoding": {"y2": {"field": "reads2"}}},
  {"data": {"name": "ylab"}, "transform": [{"filter": "datum.panel == 5"}, {"calculate": "850", "as": "pos"}, {"calculate": "1510", "as": "reads"}], "mark": {"type": "point", "shape": "triangle-up", "filled": true, "color": "black", "size": 24, "opacity": 1}},
  {"data": {"name": "ylab"}, "transform": [{"filter": "datum.panel == 5"}, {"calculate": "2600", "as": "pos"}, {"calculate": "850", "as": "reads"}], "mark": {"type": "text", "font": "Liberation Serif", "fontSize": 10, "angle": 270, "color": "black"}, "encoding": {"text": {"value": "Reads (1,000)"}}}
 ]},
 {"encoding": {"y": {"field": "lane", "type": "quantitative", "scale": {"domain": [1, 3], "range": [686.6, 665.6], "nice": false, "zero": false}, "axis": null}},
  "layer": [
  {"data": {"name": "genes"}, "transform": [{"calculate": "datum.lane-0.3", "as": "lo"}, {"calculate": "datum.lane+0.3", "as": "hi"}], "mark": {"type": "rect", "stroke": "#333", "strokeWidth": 0.7}, "encoding": {"x": {"field": "start", "type": "quantitative", "axis": null}, "x2": {"field": "end"}, "y": {"field": "lo"}, "y2": {"field": "hi"}, "fill": {"field": "kind", "type": "nominal", "scale": {"domain": ["open", "filled"], "range": ["white", "#111"]}, "legend": null}}},
  {"data": {"name": "titles"}, "transform": [{"filter": "datum.panel == 5"}, {"calculate": "3.25", "as": "lane"}], "mark": {"type": "text", "font": "Liberation Serif", "fontSize": 18, "color": "black"}, "encoding": {"x": {"field": "pos1", "type": "quantitative", "axis": null}, "text": {"field": "t1"}}},
  {"data": {"name": "titles"}, "transform": [{"filter": "datum.panel == 5"}, {"calculate": "1.6", "as": "lane"}], "mark": {"type": "text", "font": "Liberation Serif", "fontSize": 16.5, "color": "black"}, "encoding": {"x": {"field": "pos2", "type": "quantitative", "axis": null}, "text": {"field": "t2"}}},
  {"data": {"name": "ylab"}, "transform": [{"filter": "datum.panel == 5"}, {"calculate": "-1200", "as": "pos"}, {"calculate": "3.55", "as": "lane"}], "mark": {"type": "text", "font": "Liberation Sans", "fontSize": 5, "align": "right", "color": "#333"}, "encoding": {"text": {"value": "(GE)"}}},
  {"data": {"name": "ylab"}, "transform": [{"filter": "datum.panel == 5"}, {"calculate": "-1200", "as": "pos"}, {"calculate": "3.05", "as": "lane"}], "mark": {"type": "text", "font": "Liberation Sans", "fontSize": 5, "align": "right", "color": "#333"}, "encoding": {"text": {"value": "Expression"}}}
 ]}
]},
{"resolve": {"scale": {"y": "independent"}}, "layer": [
 {"encoding": {"y": {"field": "reads", "type": "quantitative", "scale": {"domain": [0, 1800], "range": [954, 846], "nice": false, "zero": false}, "axis": null}},
  "layer": [
  {"data": {"name": "p6"}, "mark": {"type": "area", "color": "black", "stroke": "black", "strokeWidth": 0.8}},
  {"data": {"name": "ylab"}, "transform": [{"filter": "datum.panel == 6"}, {"calculate": "-1200", "as": "pos"}, {"calculate": "1800", "as": "reads"}], "mark": {"type": "text", "font": "Liberation Sans", "fontSize": 5, "lineHeight": 4.8, "lineBreak": "\n", "align": "right", "baseline": "top", "color": "#333"}, "encoding": {"text": {"field": "text"}}},
  {"data": {"name": "ylab"}, "transform": [{"filter": "datum.panel == 6"}, {"calculate": "-1200", "as": "pos"}, {"calculate": "0", "as": "reads"}], "mark": {"type": "text", "font": "Liberation Sans", "fontSize": 5, "align": "right", "baseline": "middle", "color": "#333"}, "encoding": {"text": {"value": "0.00"}}},
  {"data": {"name": "ylab"}, "transform": [{"filter": "datum.panel == 6"}, {"calculate": "850", "as": "pos"}, {"calculate": "150", "as": "reads"}, {"calculate": "1480", "as": "reads2"}], "mark": {"type": "rule", "color": "black", "strokeWidth": 1.6}, "encoding": {"y2": {"field": "reads2"}}},
  {"data": {"name": "ylab"}, "transform": [{"filter": "datum.panel == 6"}, {"calculate": "850", "as": "pos"}, {"calculate": "1510", "as": "reads"}], "mark": {"type": "point", "shape": "triangle-up", "filled": true, "color": "black", "size": 24, "opacity": 1}},
  {"data": {"name": "ylab"}, "transform": [{"filter": "datum.panel == 6"}, {"calculate": "2600", "as": "pos"}, {"calculate": "850", "as": "reads"}], "mark": {"type": "text", "font": "Liberation Serif", "fontSize": 10, "angle": 270, "color": "black"}, "encoding": {"text": {"value": "Reads (1,000)"}}}
 ]},
 {"encoding": {"y": {"field": "lane", "type": "quantitative", "scale": {"domain": [1, 3], "range": [840, 819], "nice": false, "zero": false}, "axis": null}},
  "layer": [
  {"data": {"name": "genes"}, "transform": [{"calculate": "datum.lane-0.3", "as": "lo"}, {"calculate": "datum.lane+0.3", "as": "hi"}], "mark": {"type": "rect", "stroke": "#333", "strokeWidth": 0.7}, "encoding": {"x": {"field": "start", "type": "quantitative", "axis": null}, "x2": {"field": "end"}, "y": {"field": "lo"}, "y2": {"field": "hi"}, "fill": {"field": "kind", "type": "nominal", "scale": {"domain": ["open", "filled"], "range": ["white", "#111"]}, "legend": null}}},
  {"data": {"name": "titles"}, "transform": [{"filter": "datum.panel == 6"}, {"calculate": "3.25", "as": "lane"}], "mark": {"type": "text", "font": "Liberation Serif", "fontSize": 18, "color": "black"}, "encoding": {"x": {"field": "pos1", "type": "quantitative", "axis": null}, "text": {"field": "t1"}}},
  {"data": {"name": "titles"}, "transform": [{"filter": "datum.panel == 6"}, {"calculate": "1.6", "as": "lane"}], "mark": {"type": "text", "font": "Liberation Serif", "fontSize": 16.5, "color": "black"}, "encoding": {"x": {"field": "pos2", "type": "quantitative", "axis": null}, "text": {"field": "t2"}}},
  {"data": {"name": "ylab"}, "transform": [{"filter": "datum.panel == 6"}, {"calculate": "-1200", "as": "pos"}, {"calculate": "3.55", "as": "lane"}], "mark": {"type": "text", "font": "Liberation Sans", "fontSize": 5, "align": "right", "color": "#333"}, "encoding": {"text": {"value": "(GE)"}}},
  {"data": {"name": "ylab"}, "transform": [{"filter": "datum.panel == 6"}, {"calculate": "-1200", "as": "pos"}, {"calculate": "3.05", "as": "lane"}], "mark": {"type": "text", "font": "Liberation Sans", "fontSize": 5, "align": "right", "color": "#333"}, "encoding": {"text": {"value": "Expression"}}}
 ]}
]},
{"encoding": {"y": {"field": "bm", "type": "quantitative", "scale": {"domain": [0, 1], "range": [997, 967], "nice": false, "zero": false}, "axis": null}},
 "layer": [
 {"data": {"values": [{"track": "KSHV"}]}, "transform": [{"calculate": "0", "as": "pos"}, {"calculate": "138000", "as": "pos2"}, {"calculate": "0", "as": "bm"}], "mark": {"type": "rule", "color": "#222", "strokeWidth": 1}, "encoding": {"x2": {"field": "pos2"}}},
 {"data": {"name": "genes"}, "transform": [{"window": [{"op": "row_number", "as": "rn"}], "sort": [{"field": "start"}]}, {"calculate": "0", "as": "bm"}, {"calculate": "0.28 + (datum.rn % 4)*0.18", "as": "hl"}], "mark": {"type": "rule", "color": "#555", "strokeWidth": 0.6}, "encoding": {"x": {"field": "start", "type": "quantitative", "axis": null}, "y2": {"field": "hl"}}},
 {"data": {"name": "genes"}, "transform": [{"calculate": "-0.1", "as": "bm"}, {"calculate": "0.1", "as": "hi"}], "mark": {"type": "rect", "color": "#333", "stroke": "#111", "strokeWidth": 0.5}, "encoding": {"x": {"field": "start", "type": "quantitative", "axis": null}, "x2": {"field": "end"}, "y2": {"field": "hi"}}},
 {"data": {"name": "genes"}, "transform": [{"window": [{"op": "row_number", "as": "rn"}], "sort": [{"field": "start"}]}, {"calculate": "0.3 + (datum.rn % 4)*0.18", "as": "bm"}], "mark": {"type": "text", "font": "Liberation Sans", "fontSize": 3, "align": "left", "baseline": "bottom", "dx": 0.5, "color": "#444"}, "encoding": {"x": {"field": "start", "type": "quantitative", "axis": null}, "text": {"field": "name"}}}
 ]}
]
},
{
"data": {"name": "caption"},
"encoding": {
 "y": {"field": "line", "type": "quantitative", "scale": {"domain": [1, 19], "range": [1019, 1357], "nice": false, "zero": false}, "axis": null},
 "x": {"datum": 0, "type": "quantitative", "scale": {"domain": [0, 1], "range": [27, 1073], "nice": false, "zero": false}, "axis": null}
},
"layer": [
 {"transform": [{"filter": "datum.line > 1"}], "mark": {"type": "text", "align": "left", "font": "Liberation Serif", "fontSize": 15.8, "color": "black"}, "encoding": {"text": {"field": "text"}}},
 {"transform": [{"filter": "datum.line == 1"}], "mark": {"type": "text", "align": "left", "font": "Liberation Serif", "fontSize": 15.8, "color": "black", "dx": 47}, "encoding": {"text": {"field": "text"}}},
 {"transform": [{"filter": "datum.line == 1"}], "mark": {"type": "text", "align": "left", "font": "Liberation Serif", "fontSize": 15.8, "fontWeight": "bold", "color": "black"}, "encoding": {"text": {"value": "FIG 2"}}}
]
}
]
}
